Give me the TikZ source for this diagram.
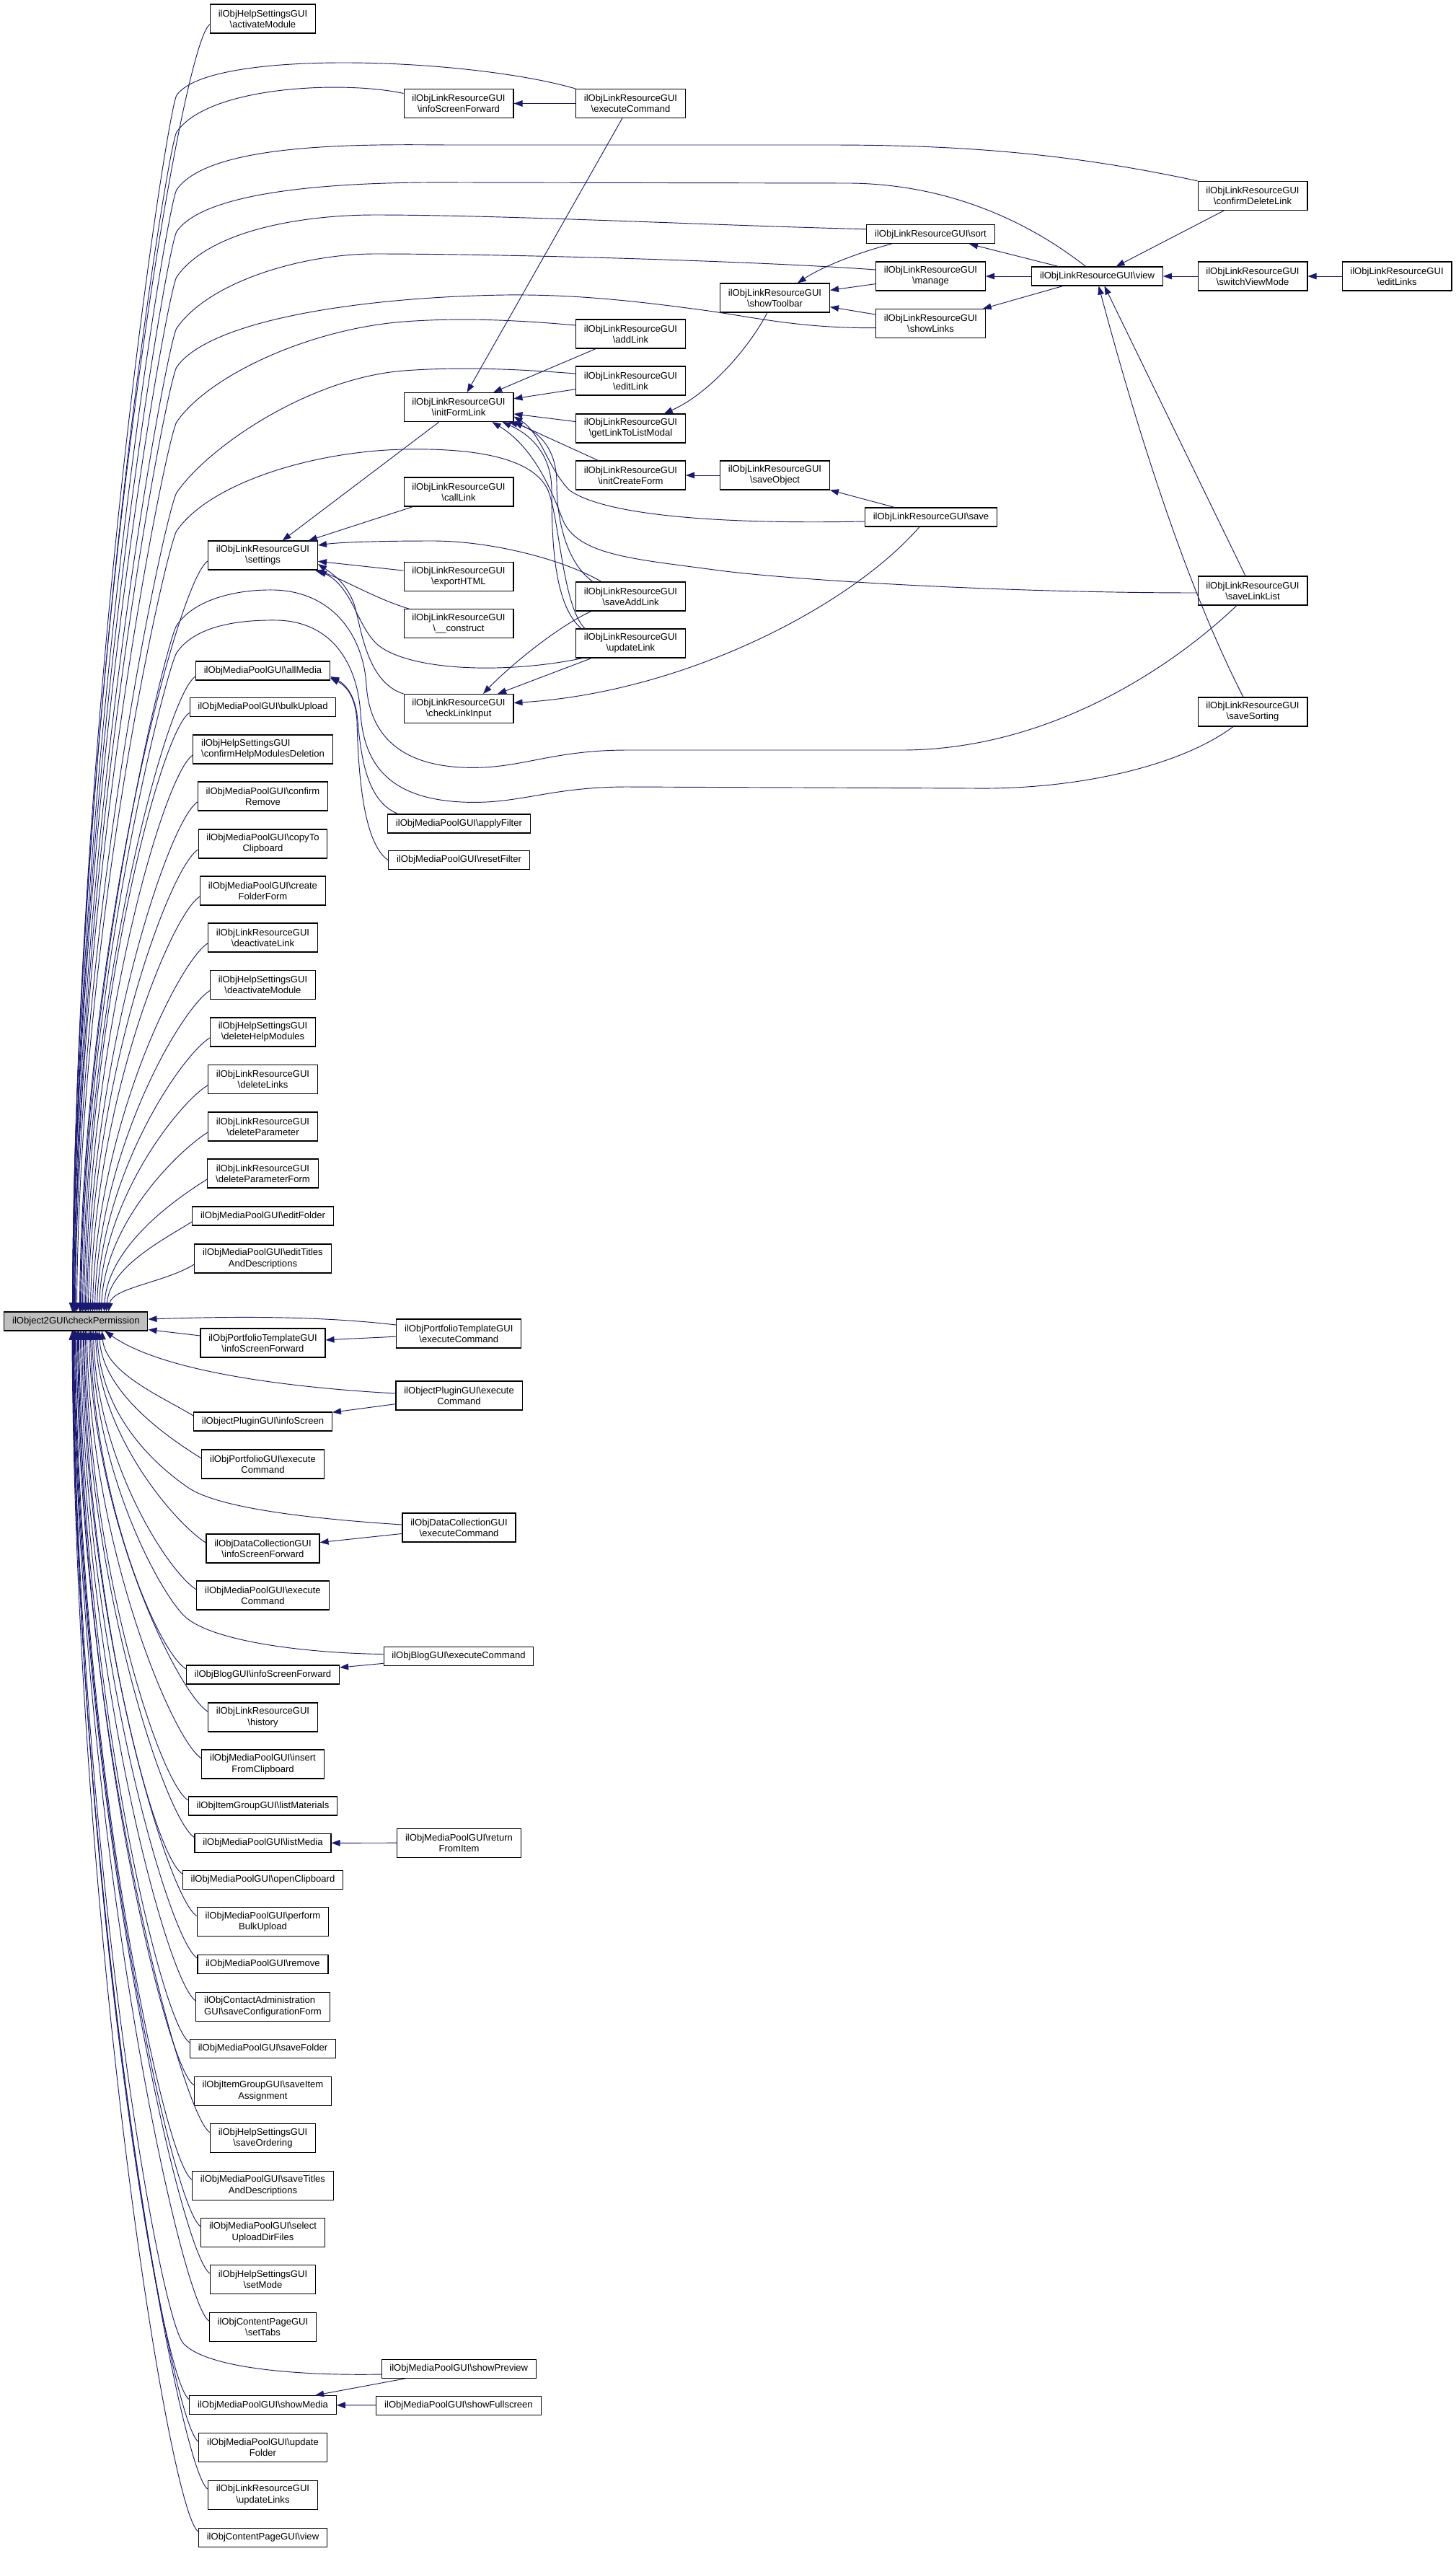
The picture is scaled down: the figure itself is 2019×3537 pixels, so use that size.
\documentclass[tikz,border=0pt]{standalone}
\usepackage{fontspec}
\setmainfont{Liberation Sans}
\usepackage{tikz}
\usetikzlibrary{arrows.meta, calc}
\definecolor{edgeBlue}{HTML}{191970}
\definecolor{rootGray}{HTML}{BFBFBF}
\newcommand{\gsl}{\textbackslash}
\newcommand{\graphfont}{\fontsize{9.8pt}{11.4pt}\selectfont}

\begin{document}
\begin{tikzpicture}[
    x=0.75pt, y=-0.75pt,
    fn/.style={rectangle, draw=black, fill=white, line width=0.8pt,
               font=\graphfont, align=center, inner xsep=8.5pt, inner ysep=0pt,
               minimum height=19.5pt},
    fn2/.style={fn, minimum height=30pt},
    fnl/.style={fn2, align=left},
    root/.style={fn, fill=rootGray},
    edge/.style={-{Triangle[length=9pt, width=6.5pt]}, color=edgeBlue, line width=0.7pt},
]
\useasboundingbox (0,0) rectangle (2019,3537);
\fill[white] (0,0) rectangle (2019,3537);

% ── Root ──
\node[root] (cp) at (105.4,1832) {ilObject2GUI\gsl checkPermission};

% ── Column 1: direct callers ──
\node[fn2] (actMod) at (364.5,26) {ilObjHelpSettingsGUI\\\gsl activateModule};
\node[fn2] (settings) at (364.5,770) {ilObjLinkResourceGUI\\\gsl settings};
\node[fn] (allMedia) at (364.5,930) {ilObjMediaPoolGUI\gsl allMedia};
\node[fn] (bulkUpload) at (364.5,980.5) {ilObjMediaPoolGUI\gsl bulkUpload};
\node[fnl] (confHelpDel) at (364.5,1039) {ilObjHelpSettingsGUI\\\gsl confirmHelpModulesDeletion};
\node[fn2] (confRemove) at (364.5,1104) {ilObjMediaPoolGUI\gsl confirm\\Remove};
\node[fn2] (copyClip) at (364.5,1170) {ilObjMediaPoolGUI\gsl copyTo\\Clipboard};
\node[fn2] (createFolder) at (364.5,1235) {ilObjMediaPoolGUI\gsl create\\FolderForm};
\node[fn2] (deactLink) at (364.5,1300) {ilObjLinkResourceGUI\\\gsl deactivateLink};
\node[fn2] (deactMod) at (364.5,1365.6) {ilObjHelpSettingsGUI\\\gsl deactivateModule};
\node[fn2] (delHelp) at (364.5,1431) {ilObjHelpSettingsGUI\\\gsl deleteHelpModules};
\node[fn2] (delLinks) at (364.5,1496.7) {ilObjLinkResourceGUI\\\gsl deleteLinks};
\node[fn2] (delParam) at (364.5,1562) {ilObjLinkResourceGUI\\\gsl deleteParameter};
\node[fn2] (delParamForm) at (364.5,1627) {ilObjLinkResourceGUI\\\gsl deleteParameterForm};
\node[fn] (editFolder) at (364.5,1686) {ilObjMediaPoolGUI\gsl editFolder};
\node[fn2] (editTitles) at (364.5,1745) {ilObjMediaPoolGUI\gsl editTitles\\AndDescriptions};
\node[fn2] (ptInfo) at (364.5,1862) {ilObjPortfolioTemplateGUI\\\gsl infoScreenForward};
\node[fn] (opInfo) at (364.5,1971) {ilObjectPluginGUI\gsl infoScreen};
\node[fn2] (pfExec) at (364.5,2030) {ilObjPortfolioGUI\gsl execute\\Command};
\node[fn2] (dcInfo) at (364.5,2147) {ilObjDataCollectionGUI\\\gsl infoScreenForward};
\node[fn2] (mpExec) at (364.5,2212) {ilObjMediaPoolGUI\gsl execute\\Command};
\node[fn] (blogInfo) at (364.5,2322) {ilObjBlogGUI\gsl infoScreenForward};
\node[fn2] (history) at (364.5,2381) {ilObjLinkResourceGUI\\\gsl history};
\node[fn2] (insClip) at (364.5,2446) {ilObjMediaPoolGUI\gsl insert\\FromClipboard};
\node[fn] (listMat) at (364.5,2504) {ilObjItemGroupGUI\gsl listMaterials};
\node[fn] (listMedia) at (364.5,2555.5) {ilObjMediaPoolGUI\gsl listMedia};
\node[fn] (openClip) at (364.5,2606) {ilObjMediaPoolGUI\gsl openClipboard};
\node[fn2] (perfBulk) at (364.5,2664.5) {ilObjMediaPoolGUI\gsl perform\\BulkUpload};
\node[fn] (remove) at (364.5,2723) {ilObjMediaPoolGUI\gsl remove};
\node[fnl] (saveConf) at (364.5,2782) {ilObjContactAdministration\\GUI\gsl saveConfigurationForm};
\node[fn] (saveFolder) at (364.5,2840) {ilObjMediaPoolGUI\gsl saveFolder};
\node[fn2] (saveItem) at (364.5,2899) {ilObjItemGroupGUI\gsl saveItem\\Assignment};
\node[fn2] (saveOrder) at (364.5,2964.5) {ilObjHelpSettingsGUI\\\gsl saveOrdering};
\node[fn2] (saveTitles) at (364.5,3030) {ilObjMediaPoolGUI\gsl saveTitles\\AndDescriptions};
\node[fn2] (selUpload) at (364.5,3095) {ilObjMediaPoolGUI\gsl select\\UploadDirFiles};
\node[fn2] (setMode) at (364.5,3160) {ilObjHelpSettingsGUI\\\gsl setMode};
\node[fn2] (setTabs) at (364.5,3226) {ilObjContentPageGUI\\\gsl setTabs};
\node[fn] (showMedia) at (364.5,3334.6) {ilObjMediaPoolGUI\gsl showMedia};
\node[fn2] (updFolder) at (364.5,3393.6) {ilObjMediaPoolGUI\gsl update\\Folder};
\node[fn2] (updLinks) at (364.5,3459) {ilObjLinkResourceGUI\\\gsl updateLinks};
\node[fn] (cpView) at (364.5,3518) {ilObjContentPageGUI\gsl view};

% ── Column 2 ──
\node[fn2] (lrInfo) at (636,143.5) {ilObjLinkResourceGUI\\\gsl infoScreenForward};
\node[fn2] (initForm) at (636,564.5) {ilObjLinkResourceGUI\\\gsl initFormLink};
\node[fn2] (callLink) at (636,682) {ilObjLinkResourceGUI\\\gsl callLink};
\node[fn2] (exportHTML) at (636,799.4) {ilObjLinkResourceGUI\\\gsl exportHTML};
\node[fn2] (construct) at (636,864.7) {ilObjLinkResourceGUI\\\gsl\_\_construct};
\node[fn2] (checkInput) at (636,982.5) {ilObjLinkResourceGUI\\\gsl checkLinkInput};
\node[fn] (applyFilter) at (636.5,1142) {ilObjMediaPoolGUI\gsl applyFilter};
\node[fn] (resetFilter) at (636.5,1192.6) {ilObjMediaPoolGUI\gsl resetFilter};
\node[fn2] (ptExec) at (636.3,1849) {ilObjPortfolioTemplateGUI\\\gsl executeCommand};
\node[fn2] (opExec) at (636.6,1935) {ilObjectPluginGUI\gsl execute\\Command};
\node[fn2] (dcExec) at (636.5,2118) {ilObjDataCollectionGUI\\\gsl executeCommand};
\node[fn] (blogExec) at (636,2296.5) {ilObjBlogGUI\gsl executeCommand};
\node[fn2] (retItem) at (636.5,2555) {ilObjMediaPoolGUI\gsl return\\FromItem};
\node[fn] (showPrev) at (636.3,3284) {ilObjMediaPoolGUI\gsl showPreview};
\node[fn] (showFull) at (636,3335) {ilObjMediaPoolGUI\gsl showFullscreen};

% ── Column 3 ──
\node[fn2] (lrExec) at (874.5,143.5) {ilObjLinkResourceGUI\\\gsl executeCommand};
\node[fn2] (addLink) at (874.5,463) {ilObjLinkResourceGUI\\\gsl addLink};
\node[fn2] (editLink) at (874.5,528) {ilObjLinkResourceGUI\\\gsl editLink};
\node[fn2] (getModal) at (874.5,594) {ilObjLinkResourceGUI\\\gsl getLinkToListModal};
\node[fn2] (initCreate) at (874.5,659) {ilObjLinkResourceGUI\\\gsl initCreateForm};
\node[fn2] (saveAdd) at (874.5,827) {ilObjLinkResourceGUI\\\gsl saveAddLink};
\node[fn2] (updLink) at (874.5,892) {ilObjLinkResourceGUI\\\gsl updateLink};

% ── Columns 4 to 8 ──
\node[fn2] (toolbar) at (1074.5,413) {ilObjLinkResourceGUI\\\gsl showToolbar};
\node[fn2] (saveObj) at (1074.5,659) {ilObjLinkResourceGUI\\\gsl saveObject};
\node[fn] (sort) at (1290.5,324.7) {ilObjLinkResourceGUI\gsl sort};
\node[fn2] (manage) at (1290.5,383) {ilObjLinkResourceGUI\\\gsl manage};
\node[fn2] (showLinks) at (1290.5,448.7) {ilObjLinkResourceGUI\\\gsl showLinks};
\node[fn] (save) at (1291,717) {ilObjLinkResourceGUI\gsl save};
\node[fn] (view) at (1521.5,383) {ilObjLinkResourceGUI\gsl view};
\node[fn2] (confDel) at (1737,271.4) {ilObjLinkResourceGUI\\\gsl confirmDeleteLink};
\node[fn2] (switchView) at (1737,383) {ilObjLinkResourceGUI\\\gsl switchViewMode};
\node[fn2] (saveList) at (1737,819) {ilObjLinkResourceGUI\\\gsl saveLinkList};
\node[fn2] (saveSort) at (1737,987) {ilObjLinkResourceGUI\\\gsl saveSorting};
\node[fn2] (editLinks) at (1937,383) {ilObjLinkResourceGUI\\\gsl editLinks};

% ── Column 1 above the root ──
\draw[edge] ($(actMod.west)+(0,8)$) .. controls +(-40,25) and +(5,-892) .. ($(cp.north)+(-5,0)$);
\draw[edge] ($(settings.west)+(0,8)$) .. controls +(-40,25) and +(5,-520) .. ($(cp.north)+(5,0)$);
\draw[edge] ($(allMedia.west)+(0,8)$) .. controls +(-40,25) and +(5,-440) .. ($(cp.north)+(9,0)$);
\draw[edge] ($(bulkUpload.west)+(0,8)$) .. controls +(-40,25) and +(5,-415) .. ($(cp.north)+(11,0)$);
\draw[edge] ($(confHelpDel.west)+(0,8)$) .. controls +(-40,25) and +(5,-386) .. ($(cp.north)+(13,0)$);
\draw[edge] ($(confRemove.west)+(0,8)$) .. controls +(-40,25) and +(5,-353) .. ($(cp.north)+(15,0)$);
\draw[edge] ($(copyClip.west)+(0,8)$) .. controls +(-40,25) and +(5,-320) .. ($(cp.north)+(17,0)$);
\draw[edge] ($(createFolder.west)+(0,8)$) .. controls +(-40,25) and +(5,-288) .. ($(cp.north)+(20,0)$);
\draw[edge] ($(deactLink.west)+(0,8)$) .. controls +(-40,25) and +(5,-255) .. ($(cp.north)+(23,0)$);
\draw[edge] ($(deactMod.west)+(0,8)$) .. controls +(-40,25) and +(5,-223) .. ($(cp.north)+(26,0)$);
\draw[edge] ($(delHelp.west)+(0,8)$) .. controls +(-40,25) and +(5,-190) .. ($(cp.north)+(29,0)$);
\draw[edge] ($(delLinks.west)+(0,8)$) .. controls +(-40,25) and +(5,-157) .. ($(cp.north)+(32,0)$);
\draw[edge] ($(delParam.west)+(0,8)$) .. controls +(-40,25) and +(5,-124) .. ($(cp.north)+(35,0)$);
\draw[edge] ($(delParamForm.west)+(0,8)$) .. controls +(-40,25) and +(5,-92) .. ($(cp.north)+(39,0)$);
\draw[edge] ($(editFolder.west)+(0,8)$) .. controls +(-40,25) and +(5,-62) .. ($(cp.north)+(42,0)$);
\draw[edge] ($(editTitles.west)+(0,8)$) .. controls +(-40,25) and +(5,-33) .. ($(cp.north)+(45,0)$);

% ── Column 1 below the root ──
\draw[edge] ($(opInfo.west)+(0,-8)$) .. controls +(-40,-25) and +(5,59) .. ($(cp.south)+(36,0)$);
\draw[edge] ($(pfExec.west)+(0,-8)$) .. controls +(-40,-25) and +(5,88) .. ($(cp.south)+(32,0)$);
\draw[edge] ($(dcInfo.west)+(0,-8)$) .. controls +(-40,-25) and +(5,147) .. ($(cp.south)+(27,0)$);
\draw[edge] ($(mpExec.west)+(0,-8)$) .. controls +(-40,-25) and +(5,180) .. ($(cp.south)+(24,0)$);
\draw[edge] ($(blogInfo.west)+(0,-8)$) .. controls +(-40,-25) and +(5,234) .. ($(cp.south)+(20,0)$);
\draw[edge] ($(history.west)+(0,-8)$) .. controls +(-40,-25) and +(5,264) .. ($(cp.south)+(18,0)$);
\draw[edge] ($(insClip.west)+(0,-8)$) .. controls +(-40,-25) and +(5,296) .. ($(cp.south)+(15,0)$);
\draw[edge] ($(listMat.west)+(0,-8)$) .. controls +(-40,-25) and +(5,325) .. ($(cp.south)+(13,0)$);
\draw[edge] ($(listMedia.west)+(0,-8)$) .. controls +(-40,-25) and +(5,351) .. ($(cp.south)+(11,0)$);
\draw[edge] ($(openClip.west)+(0,-8)$) .. controls +(-40,-25) and +(5,376) .. ($(cp.south)+(10,0)$);
\draw[edge] ($(perfBulk.west)+(0,-8)$) .. controls +(-40,-25) and +(5,406) .. ($(cp.south)+(8,0)$);
\draw[edge] ($(remove.west)+(0,-8)$) .. controls +(-40,-25) and +(5,435) .. ($(cp.south)+(6,0)$);
\draw[edge] ($(saveConf.west)+(0,-8)$) .. controls +(-40,-25) and +(5,464) .. ($(cp.south)+(4,0)$);
\draw[edge] ($(saveFolder.west)+(0,-8)$) .. controls +(-40,-25) and +(5,493) .. ($(cp.south)+(3,0)$);
\draw[edge] ($(saveItem.west)+(0,-8)$) .. controls +(-40,-25) and +(5,523) .. ($(cp.south)+(2,0)$);
\draw[edge] ($(saveOrder.west)+(0,-8)$) .. controls +(-40,-25) and +(5,556) .. ($(cp.south)+(0.5,0)$);
\draw[edge] ($(saveTitles.west)+(0,-8)$) .. controls +(-40,-25) and +(5,588) .. ($(cp.south)+(-1,0)$);
\draw[edge] ($(selUpload.west)+(0,-8)$) .. controls +(-40,-25) and +(5,621) .. ($(cp.south)+(-2,0)$);
\draw[edge] ($(setMode.west)+(0,-8)$) .. controls +(-40,-25) and +(5,653) .. ($(cp.south)+(-3,0)$);
\draw[edge] ($(setTabs.west)+(0,-8)$) .. controls +(-40,-25) and +(5,686) .. ($(cp.south)+(-3.5,0)$);
\draw[edge] ($(showMedia.west)+(0,-8)$) .. controls +(-40,-25) and +(5,741) .. ($(cp.south)+(-4.5,0)$);
\draw[edge] ($(updFolder.west)+(0,-8)$) .. controls +(-40,-25) and +(5,770) .. ($(cp.south)+(-5,0)$);
\draw[edge] ($(updLinks.west)+(0,-8)$) .. controls +(-40,-25) and +(5,803) .. ($(cp.south)+(-5,0)$);
\draw[edge] ($(cpView.west)+(0,-8)$) .. controls +(-40,-25) and +(5,832) .. ($(cp.south)+(-5.5,0)$);

% ── Long callers of the root, upper part ──
\draw[edge] (lrExec.north west) .. controls (650,80) and (290,67) .. (245,132)
    .. controls (232,151) and (105,975) .. ($(cp.north)+(-5,0)$);
\draw[edge] ($(lrInfo.west)+(0,-14)$) .. controls (480,112) and (290,118) .. (245,183)
    .. controls (232,202) and (105,1001) .. ($(cp.north)+(-5,0)$);
\draw[edge] (confDel.north west) .. controls (1480,212) and (1330,201) .. (1150,201) -- (620,201)
    .. controls (500,200) and (290,198) .. (245,263)
    .. controls (232,282) and (105,1041) .. ($(cp.north)+(-4,0)$);
\draw[edge] ($(view.north)+(-16,0)$) .. controls (1440,318) and (1330,256) .. (1180,254) -- (640,253)
    .. controls (520,252) and (290,256) .. (245,321)
    .. controls (232,340) and (106,1070) .. ($(cp.north)+(-4,0)$);
\draw[edge] ($(sort.west)+(0,-7)$) .. controls (1000,313) and (700,298) .. (520,298)
    .. controls (420,298) and (290,319) .. (245,384)
    .. controls (232,403) and (106,1101) .. ($(cp.north)+(-4,0)$);
\draw[edge] ($(manage.west)+(0,-9)$) .. controls (1050,362) and (700,352) .. (520,352)
    .. controls (420,352) and (290,390) .. (245,455)
    .. controls (232,474) and (107,1137) .. ($(cp.north)+(-3,0)$);
\draw[edge] ($(showLinks.west)+(0,6)$) .. controls (1100,455) and (1040,438) .. (960,428)
    .. controls (870,416) and (790,408) .. (700,409)
    .. controls (500,412) and (290,444) .. (245,509)
    .. controls (232,528) and (108,1164) .. ($(cp.north)+(-2,0)$);
\draw[edge] ($(addLink.west)+(0,-12)$) .. controls (720,444) and (640,440) .. (560,446)
    .. controls (430,456) and (290,520) .. (245,585)
    .. controls (232,604) and (108,1202) .. ($(cp.north)+(-2,0)$);
\draw[edge] ($(editLink.west)+(0,-10)$) .. controls (720,512) and (640,508) .. (560,514)
    .. controls (430,524) and (290,618) .. (245,683)
    .. controls (232,702) and (109,1251) .. ($(cp.north)+(-1,0)$);
\draw[edge] ($(updLink.north west)+(13,0)$) .. controls (780,840) and (776,720) .. (760,680)
    .. controls (740,635) and (660,621) .. (560,623)
    .. controls (430,626) and (290,671) .. (245,736)
    .. controls (232,755) and (111,1277) .. ($(cp.north)+(1,0)$);
\draw[edge] ($(saveList.south)+(-22,0)$) .. controls (1620,930) and (1450,1040) .. (1250,1040) -- (870,1040)
    .. controls (760,1040) and (720,1068) .. (640,1064)
    .. controls (545,1059) and (512,1010) .. (508,950)
    .. controls (504,880) and (460,820) .. (380,818)
    .. controls (330,817) and (270,830) .. (245,867)
    .. controls (232,886) and (116,1343) .. ($(cp.north)+(6,0)$);
\draw[edge] ($(saveSort.south)+(-27,0)$) .. controls (1640,1060) and (1500,1095) .. (1350,1093) -- (870,1091)
    .. controls (760,1091) and (720,1116) .. (640,1112)
    .. controls (540,1107) and (505,1060) .. (500,990)
    .. controls (496,920) and (460,862) .. (385,860)
    .. controls (330,859) and (270,868) .. (245,905)
    .. controls (232,924) and (117,1362) .. ($(cp.north)+(7,0)$);

% ── Long callers of the root, lower part ──
\draw[edge] ($(ptExec.west)+(0,-12)$) .. controls (430,1823) and (300,1826) .. ($(cp.east)+(0,-3)$);
\draw[edge] (ptInfo) -- (cp);
\draw[edge] ($(opExec.west)+(0,-3)$) .. controls (420,1925) and (230,1905) .. ($(cp.south)+(40,0)$);
\draw[edge] ($(dcExec.west)+(0,-4)$) .. controls (420,2105) and (300,2090) .. (260,2062)
    .. controls (200,2020) and (140,1953) .. ($(cp.south)+(29,0)$);
\draw[edge] ($(blogExec.west)+(0,-3)$) .. controls (420,2292) and (290,2275) .. (255,2240)
    .. controls (220,2205) and (132,2042) .. ($(cp.south)+(22,0)$);
\draw[edge] ($(showPrev.west)+(0,8)$) .. controls (420,3294) and (290,3285) .. (255,3250)
    .. controls (220,3215) and (106,2547) .. ($(cp.south)+(-4,0)$);

% ── Calls among the callers ──
\draw[edge] (ptExec) -- (ptInfo);
\draw[edge] (opExec) -- (opInfo);
\draw[edge] (dcExec) -- (dcInfo);
\draw[edge] (blogExec) -- (blogInfo);
\draw[edge] (retItem) -- (listMedia);
\draw[edge] (showPrev) -- (showMedia);
\draw[edge] (showFull) -- (showMedia);

\draw[edge] ($(applyFilter.north west)+(15,0)$) .. controls (505,1110) and (500,1040) .. (495,990)
    .. controls (491,962) and (478,948) .. ($(allMedia.east)+(0,8)$);
\draw[edge] (resetFilter.west) .. controls (505,1170) and (497,1080) .. (495,1000)
    .. controls (493,968) and (482,952) .. ($(allMedia.east)+(0,10)$);

\draw[edge] (lrExec) -- (lrInfo);
\draw[edge] (lrExec) -- (initForm);
\draw[edge] (confDel) -- (view);
\draw[edge] (switchView) -- (view);
\draw[edge] (editLinks) -- (switchView);
\draw[edge] (view) -- (sort);
\draw[edge] (view) -- (manage);
\draw[edge] (view) -- (showLinks);
\draw[edge] ($(saveList.north)+(-10,0)$) -- ($(view.south)+(10,0)$);
\draw[edge] ($(saveSort.north)+(-13,0)$) .. controls (1680,880) and (1610,720) .. ($(view.south)+(2,0)$);

\draw[edge] ($(sort.south west)+(35,0)$) .. controls (1190,350) and (1140,370) .. (toolbar);
\draw[edge] (manage) -- (toolbar);
\draw[edge] (showLinks) -- (toolbar);
\draw[edge] (toolbar) .. controls (1040,480) and (985,545) .. (getModal);

\draw[edge] (addLink) -- (initForm);
\draw[edge] (editLink) -- (initForm);
\draw[edge] (getModal) -- (initForm);
\draw[edge] (initCreate) -- (initForm.south east);
\draw[edge] (saveObj) -- (initCreate);
\draw[edge] (save) -- (saveObj);
\draw[edge] ($(save.west)+(0,6)$) .. controls (1000,727) and (840,715) .. (790,680)
    .. controls (760,650) and (750,600) .. ($(initForm.east)+(0,13)$);
\draw[edge] ($(saveAdd.north west)+(24,0)$) .. controls (785,780) and (772,720) .. (772,670)
    .. controls (772,620) and (745,596) .. ($(initForm.south east)+(-7,0)$);
\draw[edge] ($(updLink.north west)+(8,0)$) .. controls (770,840) and (765,760) .. (765,680)
    .. controls (765,625) and (730,600) .. ($(initForm.south east)+(-16,0)$);
\draw[edge] ($(saveList.west)+(0,3)$) .. controls (1400,822) and (1100,805) .. (990,790)
    .. controls (880,775) and (800,770) .. (780,720)
    .. controls (765,680) and (740,620) .. ($(initForm.south east)+(-30,0)$);

\draw[edge] (initForm) -- (settings);
\draw[edge] (callLink) -- (settings);
\draw[edge] (exportHTML) -- (settings);
\draw[edge] (construct) .. controls (520,830) and (470,800) .. (settings);
\draw[edge] ($(saveAdd.north west)+(36,0)$) .. controls (780,775) and (680,750) .. (600,750)
    .. controls (520,750) and (470,752) .. ($(settings.east)+(0,-14)$);
\draw[edge] ($(updLink.south west)+(10,0)$) .. controls (700,935) and (570,930) .. (525,895)
    .. controls (495,870) and (490,815) .. (settings.south east);
\draw[edge] (checkInput.north west) .. controls (505,945) and (500,860) .. (490,835)
    .. controls (480,810) and (465,798) .. ($(settings.east)+(0,12)$);

\draw[edge] ($(saveAdd.south west)+(22,0)$) .. controls (770,870) and (700,930) .. ($(checkInput.north)+(34,0)$);
\draw[edge] (updLink) -- (checkInput);
\draw[edge] ($(save.south)+(-16,0)$) .. controls (1180,840) and (950,960) .. ($(checkInput.east)+(0,-8)$);

\end{tikzpicture}
\end{document}
